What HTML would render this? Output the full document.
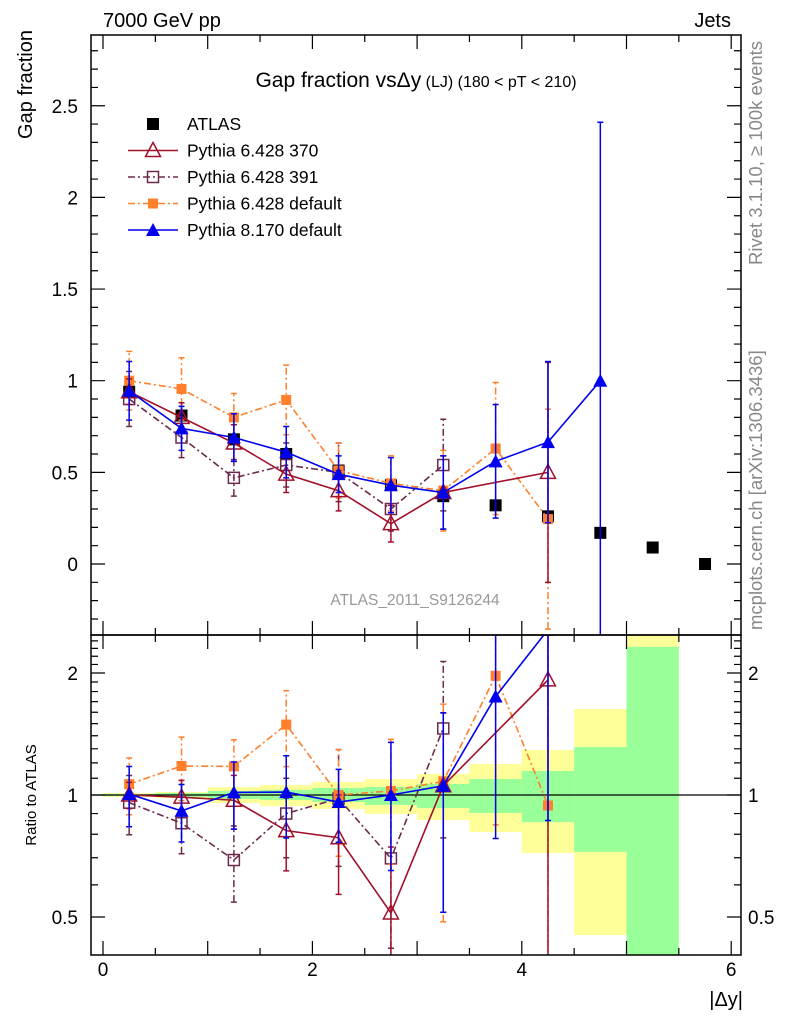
<!DOCTYPE html>
<html><head><meta charset="utf-8"><style>
html,body{margin:0;background:#fff;overflow:hidden;width:786px;height:1024px;}
svg{display:block;}
svg text{font-family:"Liberation Sans",sans-serif;}
</style></head><body>
<svg id="chart" width="786" height="1024" xmlns="http://www.w3.org/2000/svg">
<defs>
<clipPath id="clipMain"><rect x="91" y="35" width="650" height="600"/></clipPath>
<clipPath id="clipRatio"><rect x="91" y="635" width="650" height="320"/></clipPath>
</defs>
<g id="bands" clip-path="url(#clipRatio)"></g>
<g id="mainMarks" clip-path="url(#clipMain)"></g>
<g id="ratioMarks" clip-path="url(#clipRatio)"></g>
<rect x="91" y="35" width="650" height="600" fill="none" stroke="#000" stroke-width="1.5"/>
<rect x="91" y="635" width="650" height="320" fill="none" stroke="#000" stroke-width="1.5"/>
<g id="axes"></g>
<text x="103" y="27" font-size="20">7000 GeV pp</text>
<text x="731" y="27" font-size="20" text-anchor="end">Jets</text>
<text transform="translate(32,30) rotate(-90)" font-size="20" text-anchor="end">Gap fraction</text>
<text transform="translate(36,795) rotate(-90)" font-size="15" text-anchor="middle">Ratio to ATLAS</text>
<text x="743" y="1006" font-size="20" text-anchor="end">|Δy|</text>
<text x="416" y="87" font-size="21" text-anchor="middle">Gap fraction vs<tspan>Δy</tspan><tspan font-size="16"> (LJ) (180 &lt; pT &lt; 210)</tspan></text>
<text transform="translate(762,265) rotate(-90)" font-size="18.5" fill="#888">Rivet 3.1.10, ≥ 100k events</text>
<text transform="translate(762,630) rotate(-90)" font-size="18.5" fill="#888">mcplots.cern.ch [arXiv:1306.3436]</text>
<text x="415" y="605" font-size="15.5" fill="#999" text-anchor="middle">ATLAS_2011_S9126244</text>
<g id="legend"></g>
</svg>
<script>
const xCenters=[0.25,0.75,1.25,1.75,2.25,2.75,3.25,3.75,4.25,4.75,5.25,5.75];
const atlasVals=[0.94,0.81,0.68,0.60,0.51,0.43,0.37,0.32,0.26,0.17,0.09,0.0];
const bandGreenLo=[0.994,0.989,0.978,0.972,0.961,0.945,0.929,0.903,0.857,0.724,0.38,null];
const bandGreenHi=[1.006,1.011,1.023,1.029,1.041,1.047,1.065,1.095,1.146,1.313,2.32,null];
const bandYellowLo=[0.989,0.983,0.956,0.939,0.924,0.898,0.868,0.810,0.719,0.451,0.38,null];
const bandYellowHi=[1.011,1.017,1.046,1.058,1.077,1.095,1.127,1.193,1.291,1.63,2.55,null];
const p370Vals=[0.94,0.80,0.66,0.49,0.40,0.22,0.39,null,0.50];
const p370Errs=[0.07,0.08,0.10,0.10,0.11,0.10,0.20,null,0.60];
const p391Vals=[0.90,0.69,0.47,0.54,0.50,0.30,0.54];
const p391Errs=[0.15,0.11,0.10,0.12,0.16,0.12,0.25];
const p6defVals=[1.0,0.955,0.80,0.895,0.51,0.44,0.40,0.63,0.245];
const p6defErrs=[0.16,0.17,0.13,0.19,0.15,0.15,0.22,0.36,0.60];
const p8Vals=[0.945,0.74,0.69,0.61,0.49,0.43,0.39,0.56,0.665,1.0];
const p8Errs=[0.16,0.12,0.13,0.14,0.10,0.15,0.20,0.31,0.44,1.41];
const mainTicks=[0,0.5,1,1.5,2,2.5];
const mainTickLabels=["0","0.5","1","1.5","2","2.5"];
const ratioTicks=[0.5,1,2];
const ratioTickLabels=["0.5","1","2"];
const xTicks=[0,2,4,6];
const xTickLabels=["0","2","4","6"];

const NS="http://www.w3.org/2000/svg";
const X=v=>103+v*104.7;
const Y=v=>564-v*183.3;
const R=v=>795-Math.log2(v)*122;
const clampY=y=>Math.max(30,Math.min(640,y));
function mk(tag,attrs,parent){const e=document.createElementNS(NS,tag);for(const k in attrs)e.setAttribute(k,attrs[k]);parent.appendChild(e);return e;}
const axes=document.getElementById('axes');
for(let v=-0.3;v<=2.85;v+=0.1){const vv=Math.round(v*10)/10;const maj=Math.abs(vv*2-Math.round(vv*2))<1e-6;const l=maj?14:7;
 const t=mk('path',{d:`M91 ${Y(vv)}h${l}M741 ${Y(vv)}h${-l}`,stroke:'#000','stroke-width':1.2},axes);
 }
mainTicks.forEach((v,i)=>{const t=mk('text',{x:78,y:Y(v)+7,'font-size':19,'text-anchor':'end'},axes);t.textContent=mainTickLabels[i];
 });
for(let v=0.5;v<=2.45;v+=0.1){const vv=Math.round(v*10)/10;const maj=[0.5,1,2].includes(vv);const l=maj?14:7;
 const t=mk('path',{d:`M91 ${R(vv)}h${l}M741 ${R(vv)}h${-l}`,stroke:'#000','stroke-width':1.2},axes);
 }
ratioTicks.forEach((v,i)=>{const a=mk('text',{x:78,y:R(v)+7,'font-size':19,'text-anchor':'end'},axes);a.textContent=ratioTickLabels[i];
 
 const b=mk('text',{x:748,y:R(v)+7,'font-size':19},axes);b.textContent=ratioTickLabels[i];
 });
for(let v=0;v<=6.01;v+=0.5){const maj=Math.abs(v-Math.round(v))<1e-6;const l=maj?14:7;
 const t=mk('path',{d:`M${X(v)} 955v${-l}M${X(v)} 635v${-l}M${X(v)} 635v${l}M${X(v)} 35v${l}`,stroke:'#000','stroke-width':1.2},axes);
 }
xTicks.forEach((v,i)=>{const t=mk('text',{x:X(v),y:976,'font-size':19,'text-anchor':'middle'},axes);t.textContent=xTickLabels[i];
 });
const bands=document.getElementById('bands');
xCenters.forEach((c,i)=>{if(bandYellowLo[i]==null)return;
 const x0=X(c-0.25),w=X(c+0.25)-x0;
 const y=mk('rect',{x:x0,y:R(bandYellowHi[i]),width:w,height:R(bandYellowLo[i])-R(bandYellowHi[i]),fill:'#ffff99'},bands);
 
 const g=mk('rect',{x:x0,y:R(bandGreenHi[i]),width:w,height:R(bandGreenLo[i])-R(bandGreenHi[i]),fill:'#99ff99'},bands);
 });
const ref=mk('line',{x1:91,x2:741,y1:R(1),y2:R(1),stroke:'#000','stroke-width':1.2},bands);

function marker(type,cx,cy,col,parent,name){let e;
 if(type==='sq')e=mk('rect',{x:cx-5,y:cy-5,width:10,height:10,fill:col},parent);
 else if(type==='osq')e=mk('rect',{x:cx-5.5,y:cy-5.5,width:11,height:11,fill:'#fff','fill-opacity':0,stroke:col,'stroke-width':1.5},parent);
 else if(type==='bsq')e=mk('rect',{x:cx-6,y:cy-6,width:12,height:12,fill:col},parent);
 else if(type==='tri')e=mk('path',{d:`M${cx} ${cy-7}L${cx+7} ${cy+6}L${cx-7} ${cy+6}Z`,fill:col},parent);
 else e=mk('path',{d:`M${cx} ${cy-8}L${cx+7.5} ${cy+6}L${cx-7.5} ${cy+6}Z`,fill:'none',stroke:col,'stroke-width':1.5},parent);
 }
const series=[
 {vals:p391Vals,errs:p391Errs,col:'#6b2a4d',dash:'7,3,2,3',m:'osq',name:'pythia6-391'},
 {vals:p6defVals,errs:p6defErrs,col:'#ff7f2a',dash:'7,3,2,3',m:'sq',name:'pythia6-default'},
 {vals:p370Vals,errs:p370Errs,col:'#a0102a',dash:'',m:'otri',name:'pythia6-370'},
 {vals:p8Vals,errs:p8Errs,col:'#0000ee',dash:'',m:'tri',name:'pythia8-default'}];
const mainG=document.getElementById('mainMarks'),ratG=document.getElementById('ratioMarks');
xCenters.forEach((c,i)=>marker('bsq',X(c),Y(atlasVals[i]),'#000',mainG,'atlas-point'));
series.forEach(s=>{
 let pm=[],pr=[];
 s.vals.forEach((v,i)=>{if(v==null)return;const c=xCenters[i];
  pm.push([X(c),Y(v)]);
  const y1=clampY(Y(v-s.errs[i])),y2=clampY(Y(v+s.errs[i]));
  const e=mk('path',{d:`M${X(c)} ${y1}V${y2}M${X(c)-3} ${y1}h6M${X(c)-3} ${y2}h6`,stroke:s.col,'stroke-width':1.5,'stroke-dasharray':s.dash},mainG);
  
  const a=atlasVals[i];if(a>0){const r=v/a,lo=Math.max((v-s.errs[i])/a,0.3),hi=Math.min((v+s.errs[i])/a,3);
   if(r<3){
   pr.push([X(c),R(r)]);
   const e2=mk('path',{d:`M${X(c)} ${R(lo)}V${R(hi)}M${X(c)-3} ${R(lo)}h6M${X(c)-3} ${R(hi)}h6`,stroke:s.col,'stroke-width':1.5,'stroke-dasharray':s.dash},ratG);
   }}});
 const l=mk('polyline',{points:pm.map(p=>p.join(',')).join(' '),fill:'none',stroke:s.col,'stroke-width':1.6,'stroke-dasharray':s.dash},mainG);
 
 const l2=mk('polyline',{points:pr.map(p=>p.join(',')).join(' '),fill:'none',stroke:s.col,'stroke-width':1.6,'stroke-dasharray':s.dash},ratG);
 
 pm.forEach(p=>marker(s.m,p[0],p[1],s.col,mainG,s.name+'-point'));
 pr.forEach(p=>marker(s.m,p[0],p[1],s.col,ratG,s.name+'-ratio-point'));
});
const lg=document.getElementById('legend');
const legItems=[['ATLAS','#000','','bsq',false],['Pythia 6.428 370','#a0102a','','otri',true],['Pythia 6.428 391','#6b2a4d','7,3,2,3','osq',true],['Pythia 6.428 default','#ff7f2a','7,3,2,3','sq',true],['Pythia 8.170 default','#0000ee','','tri',true]];
legItems.forEach((it,i)=>{const y=124+i*26.5;
 if(it[4]){const l=mk('line',{x1:128,x2:178,y1:y,y2:y,stroke:it[1],'stroke-width':1.6,'stroke-dasharray':it[2]},lg);
  }
 marker(it[3],153,y,it[1],lg,'legend-marker');
 const t=mk('text',{x:187,y:y+6,'font-size':17.5},lg);t.textContent=it[0];
 });
</script>
</body></html>
